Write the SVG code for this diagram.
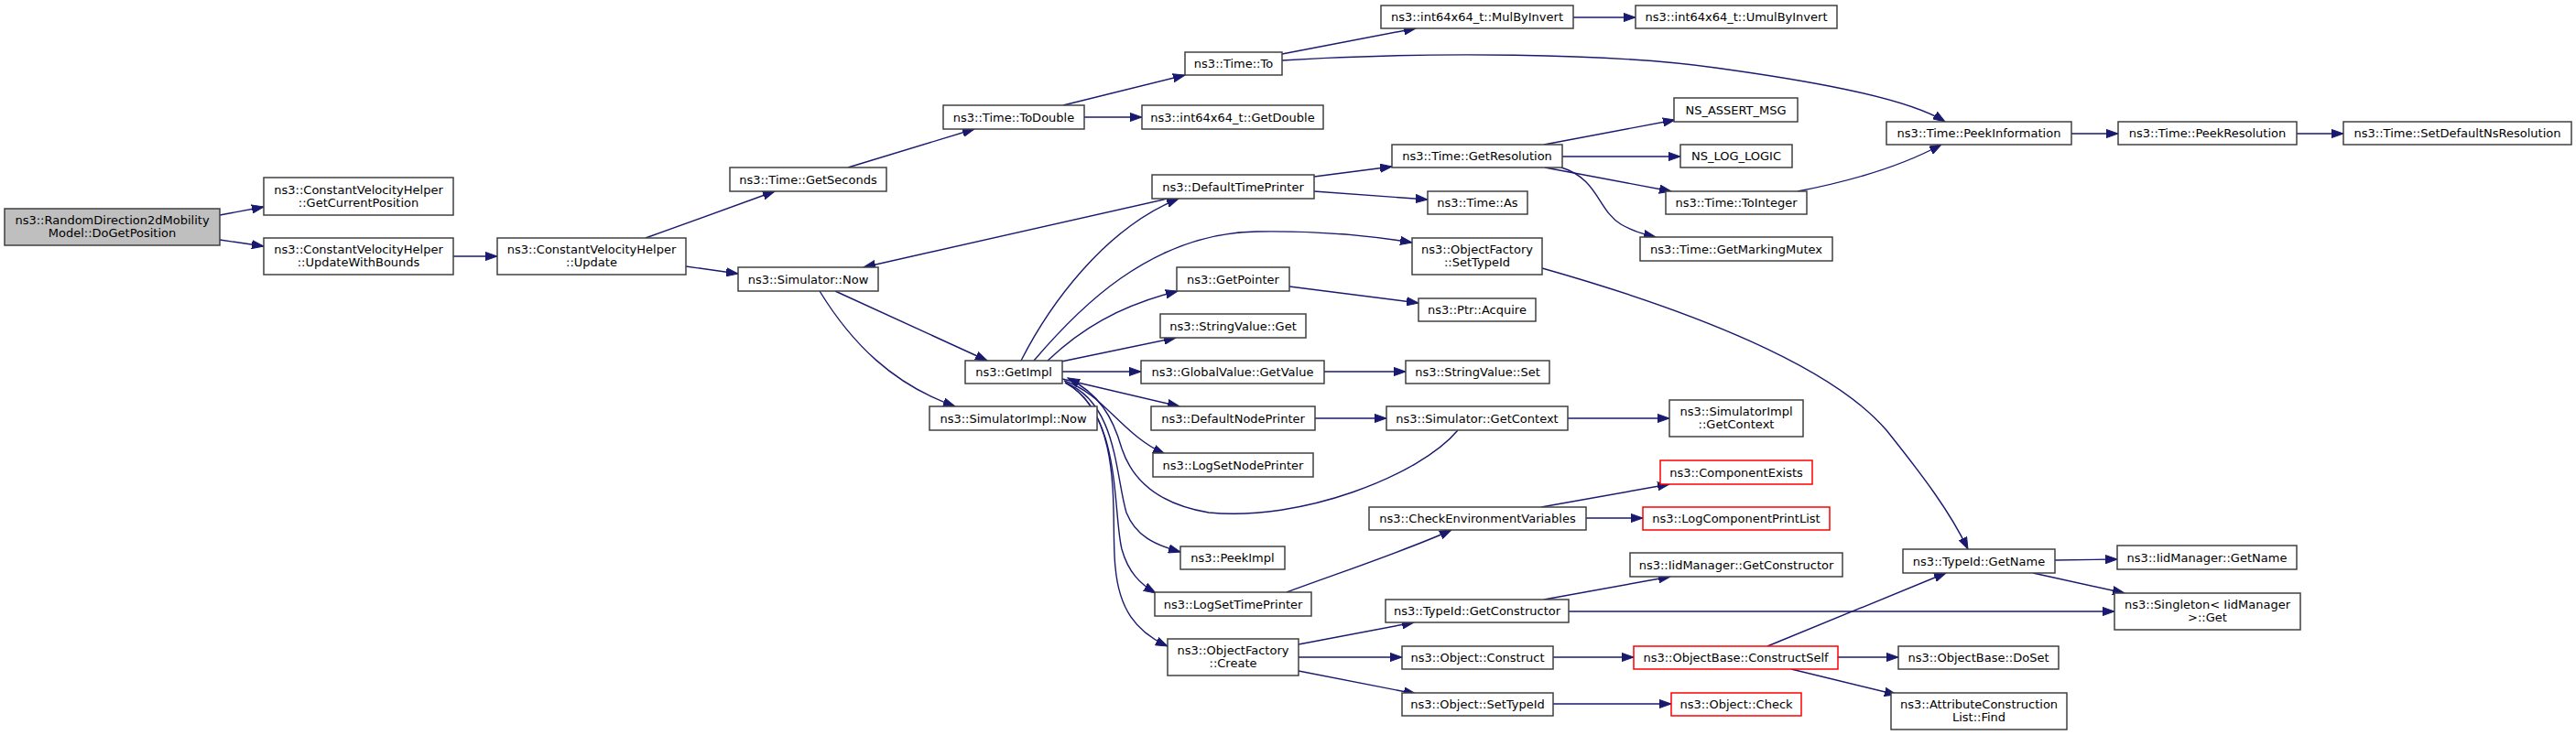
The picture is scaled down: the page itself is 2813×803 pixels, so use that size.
<svg xmlns="http://www.w3.org/2000/svg" width="2813" height="803" viewBox="0 0 2813 803">
<style>
.n rect{fill:#ffffff;stroke:#404040;stroke-width:1.5}
.n.root rect{fill:#bfbfbf}
.n.red rect{stroke:#ff0000}
.n text{font-family:"DejaVu Sans","Liberation Sans",sans-serif;font-size:13px;text-anchor:middle;fill:#000000}
.e path{fill:none;stroke:#191970;stroke-width:1.4;marker-end:url(#ah)}
</style>
<defs>
<marker id="ah" markerWidth="14" markerHeight="10" refX="13" refY="5" orient="auto" markerUnits="userSpaceOnUse">
<path d="M0,0.4 L13,5 L0,9.6 z" fill="#191970" stroke="#191970" stroke-width="1"/>
</marker>
</defs>
<rect x="0" y="0" width="2813" height="803" fill="#ffffff"/>
<g id="edges" class="e">
<path d="M240,235 L288,226"/>
<path d="M240,262 L288,269"/>
<path d="M495,280 L543,280"/>
<path d="M705,260 L846,209"/>
<path d="M749,291 L806,299"/>
<path d="M926,183 L1064,141"/>
<path d="M1161,115 L1294,82"/>
<path d="M1184,128 L1247,128"/>
<path d="M1400,59 L1546,31"/>
<path d="M1400,66 C1560,56 1760,58 1873,74 C1960,86 2080,105 2124,133"/>
<path d="M1718,19 L1786,19"/>
<path d="M2262,146 L2313,146"/>
<path d="M2508,146 L2559,146"/>
<path d="M1686,158 L1829,131"/>
<path d="M1706,171 L1835,171"/>
<path d="M1687,183 L1825,209"/>
<path d="M1705,183 C1745,195 1745,230 1770,245 C1782,252 1795,256 1808,259"/>
<path d="M1963,209 C2010,200 2070,185 2120,158"/>
<path d="M1435,193 L1520,182"/>
<path d="M1435,209 L1559,218"/>
<path d="M1275,217 L943,292"/>
<path d="M1115,394 C1145,335 1205,250 1287,217"/>
<path d="M1129,394 C1175,340 1255,255 1372,253 C1440,252 1500,258 1542,265"/>
<path d="M1144,394 C1180,360 1220,335 1286,318"/>
<path d="M1159,395 L1284,369"/>
<path d="M1408,313 L1549,331"/>
<path d="M912,318 L1078,394"/>
<path d="M895,318 C930,375 975,420 1043,444"/>
<path d="M1160,406 L1246,406"/>
<path d="M1446,406 L1535,406"/>
<path d="M1684,293 C1850,340 2000,400 2060,470 C2100,520 2130,560 2149,600"/>
<path d="M1160,414 L1288,444"/>
<path d="M1436,457 L1514,457"/>
<path d="M1712,457 L1823,457"/>
<path d="M1162,416 C1205,430 1225,475 1272,496"/>
<path d="M1592,470 C1550,520 1420,570 1320,560 C1260,550 1235,520 1225,490 C1215,455 1200,430 1166,413"/>
<path d="M1163,418 C1220,440 1218,520 1230,560 C1240,585 1260,595 1289,603"/>
<path d="M1163,418 C1225,450 1215,560 1225,600 C1232,625 1245,638 1262,648"/>
<path d="M1163,418 C1230,455 1212,570 1218,620 C1222,665 1240,690 1275,706"/>
<path d="M1405,647 C1450,630 1540,600 1585,579"/>
<path d="M1683,554 L1823,529"/>
<path d="M1732,566 L1794,566"/>
<path d="M1418,704 L1544,680"/>
<path d="M1418,718 L1531,718"/>
<path d="M1418,733 L1546,758"/>
<path d="M1686,655 L1824,630"/>
<path d="M1713,668 L2309,668"/>
<path d="M1696,718 L1784,718"/>
<path d="M1696,769 L1825,769"/>
<path d="M1930,706 L2125,626"/>
<path d="M2007,718 L2073,718"/>
<path d="M1956,731 L2071,759"/>
<path d="M2244,612 L2312,611"/>
<path d="M2220,626 L2320,648"/>
</g>
<g id="n_root" class="n root"><rect x="5" y="228" width="235" height="40"/><text x="122.5" y="245">ns3::RandomDirection2dMobility</text><text x="122.5" y="259">Model::DoGetPosition</text></g>
<g id="n_getcurrentposition" class="n"><rect x="288" y="194" width="207" height="41"/><text x="391.5" y="211.5">ns3::ConstantVelocityHelper</text><text x="391.5" y="225.5">::GetCurrentPosition</text></g>
<g id="n_updatewithbounds" class="n"><rect x="288" y="260" width="207" height="40"/><text x="391.5" y="277">ns3::ConstantVelocityHelper</text><text x="391.5" y="291">::UpdateWithBounds</text></g>
<g id="n_update" class="n"><rect x="543" y="260" width="206" height="40"/><text x="646" y="277">ns3::ConstantVelocityHelper</text><text x="646" y="291">::Update</text></g>
<g id="n_getseconds" class="n"><rect x="797" y="183" width="171" height="26"/><text x="882.5" y="200.5">ns3::Time::GetSeconds</text></g>
<g id="n_simnow" class="n"><rect x="806" y="292" width="153" height="26"/><text x="882.5" y="309.5">ns3::Simulator::Now</text></g>
<g id="n_todouble" class="n"><rect x="1030" y="115" width="154" height="26"/><text x="1107" y="132.5">ns3::Time::ToDouble</text></g>
<g id="n_getimpl" class="n"><rect x="1054" y="394" width="106" height="25"/><text x="1107" y="411">ns3::GetImpl</text></g>
<g id="n_simimplnow" class="n"><rect x="1015" y="444" width="183" height="26"/><text x="1106.5" y="461.5">ns3::SimulatorImpl::Now</text></g>
<g id="n_timeto" class="n"><rect x="1294" y="57" width="106" height="25"/><text x="1347" y="74">ns3::Time::To</text></g>
<g id="n_getdouble" class="n"><rect x="1247" y="115" width="198" height="26"/><text x="1346" y="132.5">ns3::int64x64_t::GetDouble</text></g>
<g id="n_defaulttimeprinter" class="n"><rect x="1258" y="191" width="177" height="26"/><text x="1346.5" y="208.5">ns3::DefaultTimePrinter</text></g>
<g id="n_getpointer" class="n"><rect x="1285" y="292" width="123" height="26"/><text x="1346.5" y="309.5">ns3::GetPointer</text></g>
<g id="n_stringvalueget" class="n"><rect x="1267" y="343" width="159" height="26"/><text x="1346.5" y="360.5">ns3::StringValue::Get</text></g>
<g id="n_globalvalue" class="n"><rect x="1246" y="394" width="200" height="25"/><text x="1346" y="411">ns3::GlobalValue::GetValue</text></g>
<g id="n_defaultnodeprinter" class="n"><rect x="1257" y="444" width="179" height="26"/><text x="1346.5" y="461.5">ns3::DefaultNodePrinter</text></g>
<g id="n_logsetnodeprinter" class="n"><rect x="1259" y="495" width="175" height="26"/><text x="1346.5" y="512.5">ns3::LogSetNodePrinter</text></g>
<g id="n_peekimpl" class="n"><rect x="1289" y="597" width="114" height="25"/><text x="1346" y="614">ns3::PeekImpl</text></g>
<g id="n_logsettimeprinter" class="n"><rect x="1261" y="647" width="171" height="26"/><text x="1346.5" y="664.5">ns3::LogSetTimePrinter</text></g>
<g id="n_ofcreate" class="n"><rect x="1275" y="698" width="143" height="40"/><text x="1346.5" y="715">ns3::ObjectFactory</text><text x="1346.5" y="729">::Create</text></g>
<g id="n_mulbyinvert" class="n"><rect x="1508" y="6" width="210" height="25"/><text x="1613" y="23">ns3::int64x64_t::MulByInvert</text></g>
<g id="n_getresolution" class="n"><rect x="1520" y="158" width="186" height="25"/><text x="1613" y="175">ns3::Time::GetResolution</text></g>
<g id="n_timeas" class="n"><rect x="1559" y="209" width="109" height="25"/><text x="1613.5" y="226">ns3::Time::As</text></g>
<g id="n_ofsettypeid" class="n"><rect x="1542" y="260" width="142" height="40"/><text x="1613" y="277">ns3::ObjectFactory</text><text x="1613" y="291">::SetTypeId</text></g>
<g id="n_ptracquire" class="n"><rect x="1549" y="326" width="128" height="25"/><text x="1613" y="343">ns3::Ptr::Acquire</text></g>
<g id="n_stringvalueset" class="n"><rect x="1535" y="394" width="157" height="25"/><text x="1613.5" y="411">ns3::StringValue::Set</text></g>
<g id="n_simgetcontext" class="n"><rect x="1514" y="444" width="198" height="26"/><text x="1613" y="461.5">ns3::Simulator::GetContext</text></g>
<g id="n_checkenv" class="n"><rect x="1495" y="554" width="237" height="25"/><text x="1613.5" y="571">ns3::CheckEnvironmentVariables</text></g>
<g id="n_typeidgetconstructor" class="n"><rect x="1513" y="655" width="200" height="25"/><text x="1613" y="672">ns3::TypeId::GetConstructor</text></g>
<g id="n_objectconstruct" class="n"><rect x="1531" y="706" width="165" height="25"/><text x="1613.5" y="723">ns3::Object::Construct</text></g>
<g id="n_objectsettypeid" class="n"><rect x="1531" y="757" width="165" height="25"/><text x="1613.5" y="774">ns3::Object::SetTypeId</text></g>
<g id="n_umulbyinvert" class="n"><rect x="1786" y="6" width="220" height="25"/><text x="1896" y="23">ns3::int64x64_t::UmulByInvert</text></g>
<g id="n_nsassertmsg" class="n"><rect x="1828" y="107" width="135" height="26"/><text x="1895.5" y="124.5">NS_ASSERT_MSG</text></g>
<g id="n_nsloglogic" class="n"><rect x="1835" y="158" width="122" height="25"/><text x="1896" y="175">NS_LOG_LOGIC</text></g>
<g id="n_tointeger" class="n"><rect x="1819" y="209" width="154" height="25"/><text x="1896" y="226">ns3::Time::ToInteger</text></g>
<g id="n_getmarkingmutex" class="n"><rect x="1791" y="259" width="210" height="26"/><text x="1896" y="276.5">ns3::Time::GetMarkingMutex</text></g>
<g id="n_simimplgetcontext" class="n"><rect x="1823" y="437" width="146" height="40"/><text x="1896" y="454">ns3::SimulatorImpl</text><text x="1896" y="468">::GetContext</text></g>
<g id="n_componentexists" class="n red"><rect x="1813" y="503" width="166" height="26"/><text x="1896" y="520.5">ns3::ComponentExists</text></g>
<g id="n_logcomponentprintlist" class="n red"><rect x="1794" y="554" width="204" height="25"/><text x="1896" y="571">ns3::LogComponentPrintList</text></g>
<g id="n_iidgetconstructor" class="n"><rect x="1780" y="604" width="232" height="26"/><text x="1896" y="621.5">ns3::IidManager::GetConstructor</text></g>
<g id="n_constructself" class="n red"><rect x="1784" y="706" width="223" height="25"/><text x="1895.5" y="723">ns3::ObjectBase::ConstructSelf</text></g>
<g id="n_objectcheck" class="n red"><rect x="1825" y="757" width="142" height="25"/><text x="1896" y="774">ns3::Object::Check</text></g>
<g id="n_peekinformation" class="n"><rect x="2060" y="133" width="202" height="25"/><text x="2161" y="150">ns3::Time::PeekInformation</text></g>
<g id="n_typeidgetname" class="n"><rect x="2078" y="600" width="166" height="26"/><text x="2161" y="617.5">ns3::TypeId::GetName</text></g>
<g id="n_doset" class="n"><rect x="2073" y="706" width="175" height="25"/><text x="2160.5" y="723">ns3::ObjectBase::DoSet</text></g>
<g id="n_attrfind" class="n"><rect x="2065" y="757" width="192" height="40"/><text x="2161" y="774">ns3::AttributeConstruction</text><text x="2161" y="788">List::Find</text></g>
<g id="n_peekresolution" class="n"><rect x="2313" y="133" width="195" height="25"/><text x="2410.5" y="150">ns3::Time::PeekResolution</text></g>
<g id="n_iidgetname" class="n"><rect x="2312" y="596" width="196" height="26"/><text x="2410" y="613.5">ns3::IidManager::GetName</text></g>
<g id="n_singletonget" class="n"><rect x="2309" y="648" width="203" height="40"/><text x="2410.5" y="665">ns3::Singleton&lt; IidManager</text><text x="2410.5" y="679">&gt;::Get</text></g>
<g id="n_setdefaultnsresolution" class="n"><rect x="2559" y="133" width="249" height="25"/><text x="2683.5" y="150">ns3::Time::SetDefaultNsResolution</text></g>
</svg>
